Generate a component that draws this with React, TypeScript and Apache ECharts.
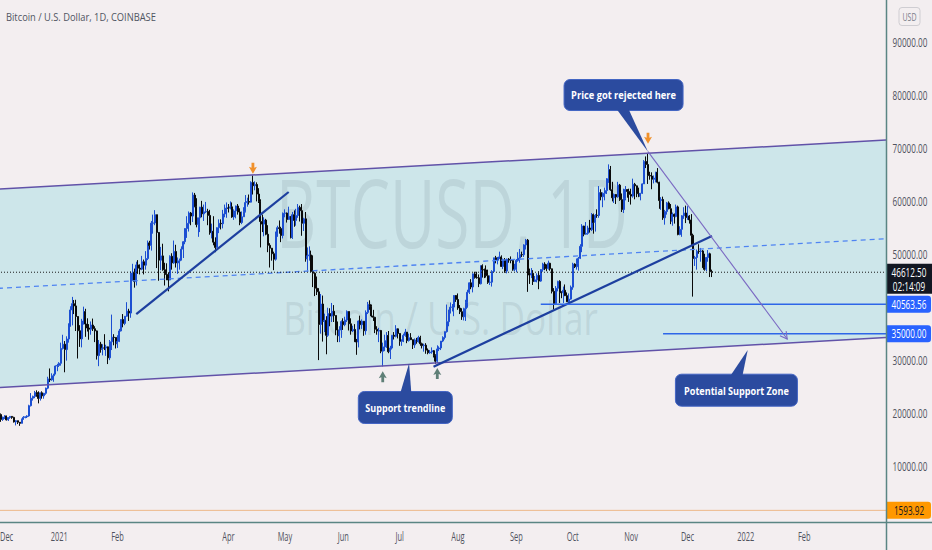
import React, { useEffect, useRef } from "react";
import * as echarts from "echarts";

// ---------------- data ----------------
const START_DATE = "2020-11-30";
const AXIS_DAYS = 472; // 2020-11-30 .. 2022-03-15
const FIRST_OPEN = 18.18; // thousand USD

// daily closes, thousand USD (2020-11-30 .. 2021-12-14)
const closesK = [
  19.70,
  // Dec 2020
  18.78, 19.22, 19.44, 18.70, 19.15, 19.36, 19.17, 18.32, 18.55, 18.25, 18.04, 18.80, 19.17, 19.27, 19.44, 21.38,
  22.80, 23.14, 23.87, 23.48, 22.74, 23.82, 23.24, 23.73, 24.70, 26.45, 26.27, 27.04, 27.36, 28.88, 28.99,
  // Jan 2021
  29.39, 32.20, 33.00, 31.99, 33.99, 36.82, 39.48, 40.67, 40.24, 38.24, 35.55, 34.01, 37.39, 39.16, 36.83, 36.07,
  35.83, 36.63, 35.93, 35.52, 30.85, 33.01, 32.07, 32.29, 32.28, 32.51, 30.43, 33.47, 34.32, 34.27, 33.11,
  // Feb
  33.53, 35.51, 37.67, 36.94, 38.29, 39.26, 38.89, 46.45, 46.51, 44.84, 47.99, 47.38, 47.18, 48.59, 47.94, 49.20,
  52.15, 51.68, 55.89, 55.92, 57.49, 54.13, 48.89, 49.70, 47.08, 46.34, 46.19, 45.14,
  // Mar
  49.63, 48.38, 50.54, 48.37, 48.76, 48.88, 50.97, 52.38, 54.88, 55.86, 57.81, 57.23, 61.19, 59.00, 55.62, 56.90,
  58.91, 57.65, 58.03, 58.10, 57.35, 54.08, 54.34, 52.30, 51.30, 55.03, 55.86, 55.78, 57.63, 58.73, 58.74,
  // Apr
  58.72, 58.97, 57.06, 58.20, 59.13, 57.99, 56.00, 57.09, 58.09, 59.77, 59.98, 59.86, 63.58, 62.96, 63.20, 61.39,
  60.04, 56.20, 55.71, 56.47, 53.79, 51.70, 51.15, 50.11, 49.07, 54.02, 55.03, 54.86, 53.56, 57.75,
  // May
  57.80, 56.58, 57.17, 53.20, 57.49, 56.39, 57.34, 58.87, 58.25, 55.86, 56.70, 49.15, 49.72, 49.88, 46.76, 46.43,
  43.59, 42.91, 36.73, 40.60, 37.30, 37.53, 34.68, 38.80, 38.32, 39.24, 38.44, 35.69, 34.62, 35.67, 37.28,
  // Jun
  36.69, 37.57, 39.19, 36.86, 35.52, 35.80, 33.59, 33.41, 37.39, 36.69, 37.34, 35.55, 39.02, 40.52, 40.14, 38.35,
  38.09, 35.82, 35.48, 35.60, 31.68, 32.50, 33.68, 34.66, 31.59, 32.28, 34.70, 34.49, 35.91, 35.04,
  // Jul
  33.54, 33.80, 34.67, 35.29, 33.69, 34.23, 33.86, 32.88, 33.81, 33.51, 34.26, 33.09, 32.73, 32.82, 31.88, 31.39,
  31.53, 31.78, 30.84, 29.79, 32.11, 32.29, 33.60, 34.29, 35.38, 37.27, 39.46, 40.00, 40.02, 42.21, 41.46,
  // Aug
  39.85, 39.15, 38.19, 39.72, 40.88, 42.82, 44.61, 43.82, 46.29, 45.60, 45.56, 44.43, 47.83, 47.10, 47.04, 45.96,
  44.69, 44.74, 46.76, 49.34, 48.87, 49.28, 49.51, 47.70, 48.97, 46.84, 49.07, 48.90, 48.83, 47.05, 47.15,
  // Sep
  48.85, 49.28, 49.94, 49.92, 51.77, 52.68, 46.86, 46.08, 46.40, 44.85, 45.17, 46.02, 44.94, 47.11, 48.15, 47.77,
  47.30, 48.31, 47.26, 43.00, 40.70, 43.58, 44.88, 42.84, 42.72, 43.21, 42.18, 41.03, 41.53, 43.79,
  // Oct
  48.14, 47.65, 48.20, 49.24, 51.50, 55.34, 53.80, 53.96, 54.97, 54.67, 57.49, 56.01, 57.37, 57.35, 61.67, 60.88,
  61.53, 62.04, 64.28, 66.00, 62.21, 60.69, 61.30, 60.86, 63.08, 60.33, 58.46, 60.59, 62.25, 61.88, 61.32,
  // Nov
  61.00, 63.23, 62.94, 61.45, 61.00, 61.53, 63.31, 67.55, 66.97, 64.88, 64.80, 64.18, 64.40, 65.51, 63.63, 60.16,
  60.37, 56.90, 58.10, 59.71, 58.62, 56.28, 57.57, 57.16, 58.96, 53.73, 54.72, 57.28, 57.81, 56.95,
  // Dec 2021
  57.21, 56.50, 53.60, 49.20, 49.40, 50.58, 50.54, 50.63, 47.56, 47.15, 49.39, 50.10, 46.71, 46.6125,
];

const highsK = [
  19.87,
  19.92, 19.31, 19.59, 19.50, 19.19, 19.42, 19.42, 19.29, 18.64, 18.56, 18.28, 18.95, 19.41, 19.35, 19.57, 21.56,
  23.77, 23.28, 24.18, 24.29, 24.10, 23.85, 24.10, 23.80, 24.79, 26.85, 28.42, 27.50, 27.39, 28.99, 29.30,
  29.60, 33.30, 34.79, 33.60, 34.50, 36.94, 40.18, 41.95, 41.35, 41.40, 38.30, 36.60, 37.80, 40.10, 39.70, 37.90,
  36.80, 37.30, 37.85, 36.40, 35.60, 33.80, 33.45, 33.00, 34.90, 32.90, 32.55, 33.80, 38.60, 34.90, 34.30,
  34.70, 35.90, 37.70, 38.70, 38.30, 40.95, 39.70, 46.80, 48.20, 47.30, 48.60, 48.90, 48.10, 49.70, 49.00, 50.60,
  52.60, 52.55, 56.30, 57.50, 58.35, 57.50, 54.20, 51.40, 52.00, 48.40, 48.30, 46.60,
  49.80, 50.20, 52.60, 51.80, 49.40, 49.20, 51.50, 52.50, 54.90, 57.20, 58.10, 58.00, 61.70, 61.60, 60.60, 56.90,
  58.97, 60.10, 59.40, 59.90, 58.60, 58.40, 55.80, 57.20, 53.20, 55.10, 56.60, 56.60, 58.40, 59.40, 59.80,
  59.50, 60.00, 59.80, 58.50, 59.20, 59.50, 58.70, 58.10, 58.90, 61.20, 60.70, 61.30, 63.80, 64.90, 63.80, 63.60,
  62.50, 60.40, 57.50, 57.00, 56.70, 55.50, 52.10, 51.20, 50.50, 54.30, 55.40, 56.40, 55.20, 57.90,
  58.50, 57.90, 59.00, 57.20, 58.00, 58.30, 58.60, 59.50, 59.20, 59.50, 56.90, 58.00, 51.30, 51.50, 50.70, 49.80,
  46.60, 45.80, 43.60, 42.50, 42.20, 38.80, 38.30, 39.90, 39.80, 40.80, 40.40, 38.20, 37.30, 36.40, 37.50,
  37.90, 38.20, 39.40, 39.20, 37.90, 36.50, 36.80, 34.00, 37.50, 38.40, 37.70, 37.40, 39.40, 41.00, 41.30, 40.50,
  39.50, 38.20, 36.40, 36.10, 35.70, 33.30, 34.80, 35.30, 35.50, 32.70, 34.70, 35.30, 36.60, 36.00,
  35.10, 33.90, 35.00, 35.90, 35.30, 35.00, 35.10, 33.90, 34.10, 34.20, 34.60, 34.60, 33.30, 33.10, 33.20, 32.20,
  31.90, 32.40, 31.90, 31.10, 32.80, 32.60, 33.60, 34.50, 35.40, 40.50, 39.50, 40.90, 40.60, 42.30, 42.30,
  42.60, 40.40, 39.80, 39.90, 41.40, 43.30, 44.70, 45.30, 46.40, 46.70, 46.70, 46.20, 47.90, 48.10, 47.30, 47.90,
  47.10, 46.00, 47.00, 49.35, 49.70, 49.50, 50.50, 49.80, 49.20, 49.30, 49.20, 49.30, 49.60, 48.90, 48.20,
  49.10, 50.40, 51.00, 50.50, 51.90, 52.90, 52.90, 47.30, 47.40, 47.00, 45.90, 46.40, 46.80, 47.20, 48.40, 48.50,
  48.10, 48.80, 48.40, 47.30, 43.60, 44.00, 45.00, 45.10, 43.00, 43.90, 44.30, 42.80, 42.60, 44.10,
  48.40, 48.30, 49.20, 49.50, 51.90, 55.70, 55.40, 56.10, 55.40, 56.50, 57.80, 57.70, 57.60, 58.50, 62.90, 62.30,
  61.70, 62.60, 64.40, 67.00, 66.70, 63.70, 61.50, 61.40, 63.70, 63.30, 61.50, 62.40, 62.90, 62.30, 62.40,
  62.40, 64.30, 63.50, 63.00, 62.60, 61.60, 63.40, 67.80, 68.50, 69.00, 65.60, 65.50, 64.90, 65.60, 66.30, 63.70,
  60.80, 60.90, 58.40, 59.90, 60.00, 59.50, 57.90, 57.70, 59.40, 59.20, 55.30, 57.40, 58.90, 59.20,
  59.10, 57.40, 57.60, 53.90, 49.70, 50.90, 51.90, 51.20, 50.80, 50.10, 49.50, 50.80, 50.30, 47.10,
];

const lowsK = [
  18.18,
  18.33, 18.51, 18.87, 18.58, 18.50, 18.90, 18.90, 18.20, 17.65, 17.91, 17.57, 18.02, 18.73, 19.00, 19.05, 19.29,
  21.23, 22.35, 22.80, 23.07, 21.82, 22.35, 22.70, 22.70, 23.45, 24.50, 25.85, 26.10, 25.90, 27.32, 27.90,
  28.70, 28.95, 32.00, 27.70, 29.90, 33.30, 36.30, 36.57, 38.70, 35.50, 30.30, 32.50, 32.40, 36.70, 34.40, 35.40,
  33.85, 34.80, 35.50, 33.40, 30.10, 28.85, 31.40, 30.90, 31.90, 30.80, 29.25, 30.00, 31.90, 32.80, 32.20,
  32.30, 33.40, 35.40, 36.20, 36.60, 38.20, 37.40, 38.00, 45.00, 43.70, 44.10, 46.30, 46.20, 47.00, 46.20, 47.10,
  48.90, 50.90, 50.70, 53.90, 55.50, 47.40, 45.00, 47.00, 46.90, 44.10, 45.10, 43.00,
  45.10, 47.10, 48.20, 47.50, 46.30, 47.10, 48.90, 49.30, 51.90, 53.10, 54.30, 55.50, 56.10, 58.90, 55.10, 53.30,
  54.20, 57.00, 56.30, 57.80, 55.50, 53.70, 53.00, 51.70, 50.40, 51.30, 54.00, 54.70, 54.90, 57.00, 56.90,
  57.90, 58.50, 56.90, 56.50, 56.80, 57.50, 55.50, 55.70, 57.20, 57.90, 59.00, 59.40, 59.80, 61.30, 62.10, 60.00,
  59.70, 51.30, 54.20, 53.40, 53.60, 50.40, 47.50, 48.80, 47.00, 48.80, 53.30, 53.90, 52.30, 53.00,
  57.00, 56.00, 56.50, 53.00, 52.90, 55.20, 55.40, 56.90, 56.20, 53.50, 54.40, 48.60, 46.90, 48.80, 46.60, 43.80,
  42.10, 42.30, 30.00, 35.00, 33.50, 35.30, 31.10, 34.40, 36.40, 37.20, 37.20, 34.70, 33.40, 33.40, 34.20,
  35.70, 36.40, 37.20, 35.60, 34.80, 35.30, 33.40, 31.00, 32.40, 35.80, 35.90, 34.60, 34.80, 38.70, 39.50, 38.10,
  37.40, 35.10, 34.80, 33.40, 31.30, 28.80, 31.70, 32.30, 31.30, 30.20, 32.00, 33.90, 34.30, 34.10,
  32.70, 32.70, 33.40, 34.40, 33.20, 33.50, 33.80, 32.10, 32.30, 33.10, 33.30, 32.70, 32.20, 31.60, 31.20, 31.10,
  31.20, 31.20, 30.50, 29.30, 29.50, 31.70, 31.90, 33.40, 33.90, 35.20, 36.40, 38.80, 39.20, 38.30, 41.00,
  39.50, 38.70, 37.60, 37.50, 37.40, 39.90, 42.50, 43.40, 42.80, 45.40, 45.40, 43.80, 44.30, 45.60, 45.50, 45.60,
  44.40, 44.20, 43.90, 46.60, 48.30, 48.10, 49.10, 47.60, 47.20, 46.50, 46.40, 48.40, 48.30, 46.90, 46.80,
  46.60, 48.60, 48.40, 49.50, 49.50, 50.90, 42.90, 44.40, 45.50, 44.20, 44.80, 44.70, 43.40, 44.80, 46.70, 47.00,
  46.80, 47.10, 46.90, 42.60, 39.60, 40.60, 43.00, 40.80, 41.70, 40.80, 42.10, 41.00, 40.80, 41.40,
  43.30, 47.40, 47.10, 46.90, 49.10, 50.40, 53.40, 53.70, 53.70, 54.10, 54.40, 53.90, 54.30, 56.90, 56.90, 60.20,
  58.90, 60.20, 61.40, 63.50, 62.00, 60.00, 59.70, 59.50, 60.70, 60.10, 58.00, 57.80, 60.20, 60.70, 59.90,
  59.40, 60.70, 60.40, 60.80, 60.80, 60.20, 61.40, 63.30, 66.30, 63.30, 64.10, 62.30, 63.40, 63.60, 63.40, 58.60,
  58.40, 56.50, 55.60, 57.50, 58.50, 55.70, 55.40, 55.80, 57.00, 53.60, 53.60, 53.30, 56.70, 55.90,
  56.50, 55.80, 51.70, 42.00, 47.80, 47.10, 50.10, 48.60, 47.40, 46.90, 46.80, 48.60, 45.70, 45.70,
];

// time-axis tick labels (first day of month)
const X_TICKS: [string, string][] = [
  ["2020-12-01", "Dec"], ["2021-01-01", "2021"], ["2021-02-01", "Feb"], ["2021-04-01", "Apr"],
  ["2021-05-01", "May"], ["2021-06-01", "Jun"], ["2021-07-01", "Jul"], ["2021-08-01", "Aug"],
  ["2021-09-01", "Sep"], ["2021-10-01", "Oct"], ["2021-11-01", "Nov"], ["2021-12-01", "Dec"],
  ["2022-01-01", "2022"], ["2022-02-01", "Feb"],
];
const Y_TICKS = [10000, 20000, 30000, 40000, 50000, 60000, 70000, 80000, 90000];
const Y_MIN = -605;
const Y_MAX = 98072;

const LAST_PRICE = 46612.5;
const COUNTDOWN = "02:14:09";
const LOW_PRICE = 1593.92;
const LEVEL_PRICES = [40563.56, 35000];

// drawings, in [date | day index, price]
type Pt = [string | number, number];
const AX_START = -0.5;
const AX_END = AXIS_DAYS - 0.5;
const channelUpper: Pt[] = [[AX_START, 62330], [AX_END, 71590]];
const channelLower: Pt[] = [[AX_START, 24800], [AX_END, 34290]];
const channelMid: Pt[] = [[AX_START, 43560], [AX_END, 52940]];
const trendA: Pt[] = [["2021-02-11", 38710], ["2021-05-03", 61780]];
const trendB: Pt[] = [["2021-07-19", 28750], ["2021-12-14", 53460]];
const levelA: Pt[] = [["2021-09-14", LEVEL_PRICES[0]], [AX_END, LEVEL_PRICES[0]]];
const levelB: Pt[] = [["2021-11-18", LEVEL_PRICES[1]], [AX_END, LEVEL_PRICES[1]]];
const projection: Pt[] = [["2021-11-10", 69400], ["2022-01-23", 33980]];
const downArrows: Pt[] = [["2021-04-14", 66260], ["2021-11-10", 71930]];
const upArrows: Pt[] = [["2021-06-22", 26860], ["2021-07-21", 27470]];
const CALLOUTS: { text: string; tip: Pt; box: Pt }[] = [
  { text: "Price got rejected here", tip: ["2021-11-10", 69400], box: ["2021-10-28", 80110] },
  { text: "Support trendline", tip: ["2021-07-06", 29400], box: ["2021-07-04", 21040] },
  { text: "Potential Support Zone", tip: ["2022-01-02", 31910], box: ["2021-12-27", 24310] },
];

// ---------------- styles ----------------
const BG = "#f3eef0";
const FILL = "#cde6ea";
const CHANNEL_COL = "#6152a8";
const MID_COL = "#4f84f2";
const TREND_COL = "#1d3f9f";
const LEVEL_COL = "#2e66e8";
const PROJ_COL = "#7a68c2";
const UP_COL = "#1c4fd2";
const DOWN_COL = "#0a0a0a";
const ORANGE = "#f0902a";
const UP_ARROW_COL = "#5f7f77";
const CALLOUT_FILL = "#2b4b9f";
const CALLOUT_EDGE = "#4365c4";
const AXIS_COL = "#5a8583";
const TEXT_COL = "#50535e";
const FONT = '"Open Sans", "Noto Sans", "DejaVu Sans", sans-serif';
const CALLOUT_STYLE = [
  { w: 119, h: 31, base: [-7, 5], textW: 105 },
  { w: 94, h: 32, base: [-5, 6], textW: 80 },
  { w: 122, h: 32, base: [-6, 6], textW: 105 },
];
const X_SQUEEZE = 0.62;
const Y_SQUEEZE = 0.68;

// ---------------- helpers ----------------
const DAY = 86400000;
const T0 = Date.parse(START_DATE + "T00:00:00Z");
const toIdx = (v: string | number) =>
  typeof v === "number" ? v : Math.round((Date.parse(v + "T00:00:00Z") - T0) / DAY);

const categories = Array.from({ length: AXIS_DAYS }, (_, i) =>
  new Date(T0 + i * DAY).toISOString().slice(0, 10)
);

const candles = closesK.map((c, i) => {
  const o = (i === 0 ? FIRST_OPEN : closesK[i - 1]) * 1000;
  const cl = c * 1000;
  const h = Math.max(highsK[i] * 1000, o, cl);
  const l = Math.min(lowsK[i] * 1000, o, cl);
  return [o, cl, l, h];
});

let mctx: CanvasRenderingContext2D | null = null;
function measure(text: string, size: number, weight: string) {
  if (!mctx) mctx = document.createElement("canvas").getContext("2d");
  if (!mctx) return text.length * size * 0.55;
  mctx.font = `${weight} ${size}px ${FONT}`;
  return mctx.measureText(text).width || 1;
}
function sqText(
  text: string,
  x: number,
  y: number,
  o: { size: number; fill: string; width?: number; squeeze?: number; weight?: string; align?: string }
) {
  const weight = o.weight || "normal";
  const w = measure(text, o.size, weight);
  const scaleX = o.width ? o.width / w : o.squeeze || 1;
  let align = o.align || "center";
  let ax = x;
  if (align === "center" && x - (w * scaleX) / 2 < 0) {
    align = "left";
    ax = 0;
  }
  return {
    type: "text",
    x: ax,
    y,
    scaleX,
    style: {
      text,
      fill: o.fill,
      fontSize: o.size,
      fontWeight: weight,
      fontFamily: FONT,
      align,
      verticalAlign: "middle",
    },
  };
}
const px = (api: any, p: Pt) => api.coord([toIdx(p[0]), p[1]]);
function seg(api: any, pts: Pt[], style: any) {
  const a = px(api, pts[0]);
  const b = px(api, pts[1]);
  return { type: "line", shape: { x1: a[0], y1: a[1], x2: b[0], y2: b[1] }, style };
}
function arrowIcon(c: number[], dir: number, color: string) {
  const [x, y] = c;
  const d = dir; // 1 = down, -1 = up
  const pts = [
    [x - 1.4, y - 5.5 * d], [x + 1.4, y - 5.5 * d], [x + 1.4, y - 0.5 * d], [x + 4, y - 1.5 * d],
    [x, y + 5.5 * d], [x - 4, y - 1.5 * d], [x - 1.4, y - 0.5 * d],
  ];
  return { type: "polygon", shape: { points: pts }, style: { fill: color } };
}
function callout(api: any, i: number) {
  const c = CALLOUTS[i];
  const st = CALLOUT_STYLE[i];
  const b = px(api, c.box);
  const t = px(api, c.tip);
  const x0 = b[0] - st.w / 2;
  const y0 = b[1] - st.h / 2;
  const baseY = t[1] < b[1] ? y0 + 1.5 : y0 + st.h - 1.5;
  return {
    type: "group",
    children: [
      { type: "rect", shape: { x: x0, y: y0, width: st.w, height: st.h, r: 6 }, style: { fill: CALLOUT_FILL, stroke: CALLOUT_EDGE, lineWidth: 1 } },
      { type: "polygon", shape: { points: [[b[0] + st.base[0], baseY], [b[0] + st.base[1], baseY], [t[0], t[1]]] }, style: { fill: CALLOUT_FILL } },
      sqText(c.text, b[0], b[1], { size: 11, fill: "#ffffff", weight: "bold", width: st.textW }),
    ],
  };
}

const DRAWINGS: ((api: any) => any)[] = [
  (api) => seg(api, [[AX_START, LOW_PRICE], [AX_END, LOW_PRICE]], { stroke: "rgba(235,150,70,0.6)", lineWidth: 1 }),
  (api) => seg(api, channelMid, { stroke: MID_COL, lineWidth: 1.3, lineDash: [5, 4] }),
  (api) => seg(api, [[AX_START, LAST_PRICE], [AX_END, LAST_PRICE]], { stroke: "#1a1a1a", lineWidth: 1, lineDash: [1, 2] }),
  (api) => seg(api, channelUpper, { stroke: CHANNEL_COL, lineWidth: 1.5 }),
  (api) => seg(api, channelLower, { stroke: CHANNEL_COL, lineWidth: 1.5 }),
  (api) => seg(api, trendA, { stroke: TREND_COL, lineWidth: 2.2 }),
  (api) => seg(api, trendB, { stroke: TREND_COL, lineWidth: 2.2 }),
  (api) => seg(api, levelA, { stroke: LEVEL_COL, lineWidth: 1.5 }),
  (api) => seg(api, levelB, { stroke: LEVEL_COL, lineWidth: 1.5 }),
  (api) => {
    const a = px(api, projection[0]);
    const b = px(api, projection[1]);
    const ang = Math.atan2(b[1] - a[1], b[0] - a[0]);
    const L = 8, sp = 0.5;
    const h1 = [b[0] - L * Math.cos(ang - sp), b[1] - L * Math.sin(ang - sp)];
    const h2 = [b[0] - L * Math.cos(ang + sp), b[1] - L * Math.sin(ang + sp)];
    return {
      type: "group",
      children: [
        { type: "line", shape: { x1: a[0], y1: a[1], x2: b[0], y2: b[1] }, style: { stroke: PROJ_COL, lineWidth: 1.1 } },
        { type: "polyline", shape: { points: [h1, [b[0], b[1]], h2] }, style: { stroke: PROJ_COL, lineWidth: 1.1, fill: "none" } },
      ],
    };
  },
  ...downArrows.map((p) => (api: any) => arrowIcon(px(api, p), 1, ORANGE)),
  ...upArrows.map((p) => (api: any) => arrowIcon(px(api, p), -1, UP_ARROW_COL)),
  ...CALLOUTS.map((_, i) => (api: any) => callout(api, i)),
];

function priceTag(api: any, cs: any, value: number, bg: string, fg: string, extra?: string) {
  const y = api.coord([0, value])[1];
  const xr = cs.x + cs.width;
  const h = extra ? 30 : 17;
  const top = y - 8.5;
  const children: any[] = [
    { type: "rect", shape: { x: xr, y: top, width: extra ? 932 - xr : 45, height: h, r: extra ? 0 : [0, 3, 3, 0] }, style: { fill: bg } },
    sqText(value.toFixed(2), xr + 23, y, { size: 12, fill: fg, squeeze: Y_SQUEEZE }),
  ];
  if (extra) children.push(sqText(extra, xr + 23, y + 14, { size: 12, fill: fg, squeeze: Y_SQUEEZE }));
  return { type: "group", children };
}

const SCALE_ITEMS: ((api: any, cs: any) => any)[] = [
  ...X_TICKS.map(([d, label]) => (api: any, cs: any) => {
    const p = api.coord([toIdx(d), 0]);
    return sqText(label, p[0], cs.y + cs.height + 14, { size: 12, fill: TEXT_COL, squeeze: X_SQUEEZE });
  }),
  ...Y_TICKS.map((v) => (api: any, cs: any) => {
    const p = api.coord([0, v]);
    return sqText(v.toFixed(2), cs.x + cs.width + 24, p[1], { size: 12, fill: TEXT_COL, squeeze: Y_SQUEEZE });
  }),
  (api: any, cs: any) => priceTag(api, cs, LEVEL_PRICES[0], "#2962ff", "#ffffff"),
  (api: any, cs: any) => priceTag(api, cs, LEVEL_PRICES[1], "#2962ff", "#ffffff"),
  (api: any, cs: any) => priceTag(api, cs, LOW_PRICE, "#ff9800", "#131722"),
  (api: any, cs: any) => priceTag(api, cs, LAST_PRICE, "#131722", "#ffffff", COUNTDOWN),
];

export default function App() {
  const ref = useRef<HTMLDivElement>(null);
  useEffect(() => {
    if (!ref.current) return;
    const chart = echarts.init(ref.current, undefined, { renderer: "svg" });
    const titleText = "Bitcoin / U.S. Dollar, 1D, COINBASE";
    const tw = measure(titleText, 11.5, "normal");
    const uw = measure("USD", 10.5, "normal");
    chart.setOption({
      animation: false,
      backgroundColor: BG,
      grid: { left: -2, right: 46, top: 0, bottom: 28, containLabel: false, outerBoundsMode: "none" },
      xAxis: [
        {
          type: "category",
          data: categories,
          boundaryGap: true,
          axisLine: { show: false },
          axisTick: { show: false },
          axisLabel: { show: false },
          splitLine: { show: false },
        },
        { type: "value", min: AX_START, max: AX_END, show: false, splitLine: { show: false } },
      ],
      yAxis: {
        type: "value",
        position: "right",
        min: Y_MIN,
        max: Y_MAX,
        axisLine: { show: false },
        axisTick: { show: false },
        axisLabel: { show: false },
        splitLine: { show: false },
      },
      series: [
        {
          type: "custom",
          name: "channel",
          xAxisIndex: 1,
          yAxisIndex: 0,
          z: 1,
          silent: true,
          data: [[0, 0]],
          renderItem: (params: any, api: any) => {
            const cs = params.coordSys;
            const pts = [
              px(api, channelUpper[0]), px(api, channelUpper[1]),
              px(api, channelLower[1]), px(api, channelLower[0]),
            ];
            const cx = cs.x + cs.width / 2;
            const cy = cs.y + cs.height / 2;
            return {
              type: "group",
              children: [
                { type: "polygon", shape: { points: pts }, style: { fill: FILL } },
                sqText("BTCUSD, 1D", cx + 10, cy - 50, { size: 95, fill: "rgba(110,132,142,0.17)", width: 352 }),
                sqText("Bitcoin / U.S. Dollar", cx - 1.5, cy + 56, { size: 46, fill: "rgba(110,132,142,0.17)", width: 315 }),
              ],
            };
          },
        },
        {
          type: "candlestick",
          name: "BTCUSD",
          xAxisIndex: 0,
          yAxisIndex: 0,
          z: 2,
          silent: true,
          barWidth: 1.5,
          data: candles,
          itemStyle: {
            color: UP_COL,
            color0: DOWN_COL,
            borderColor: UP_COL,
            borderColor0: DOWN_COL,
            borderWidth: 1,
          },
        },
        {
          type: "custom",
          name: "drawings",
          xAxisIndex: 1,
          yAxisIndex: 0,
          z: 3,
          silent: true,
          data: DRAWINGS.map((_, i) => [i, 0]),
          renderItem: (params: any, api: any) => DRAWINGS[params.dataIndex](api),
        },
        {
          type: "custom",
          name: "scale",
          xAxisIndex: 1,
          yAxisIndex: 0,
          z: 5,
          silent: true,
          clip: false,
          data: SCALE_ITEMS.map((_, i) => [i, 0]),
          renderItem: (params: any, api: any) => SCALE_ITEMS[params.dataIndex](api, params.coordSys),
        },
      ],
      graphic: [
        {
          type: "text",
          x: 6,
          y: 17,
          scaleX: 150 / tw,
          z: 100,
          style: { text: titleText, fill: "#4f5461", fontSize: 11.5, fontFamily: FONT, align: "left", verticalAlign: "middle" },
        },
        {
          type: "rect",
          z: 100,
          shape: { x: 899, y: 7.5, width: 21, height: 18, r: 3 },
          style: { fill: "none", stroke: "#cfcdd2", lineWidth: 1 },
        },
        {
          type: "text",
          x: 909.5,
          y: 16.5,
          scaleX: 14 / uw,
          z: 100,
          style: { text: "USD", fill: "#7a7d88", fontSize: 10.5, fontFamily: FONT, align: "center", verticalAlign: "middle" },
        },
        { type: "line", z: 100, shape: { x1: 0, y1: 522.5, x2: 932, y2: 522.5 }, style: { stroke: AXIS_COL, lineWidth: 1.5 } },
        { type: "line", z: 100, shape: { x1: 886.5, y1: 0, x2: 886.5, y2: 550 }, style: { stroke: AXIS_COL, lineWidth: 1.5 } },
      ],
    });
    return () => chart.dispose();
  }, []);
  return (
    <div
      ref={ref}
      style={{ position: "fixed", left: 0, top: 0, width: 932, height: 550, background: BG }}
    />
  );
}
